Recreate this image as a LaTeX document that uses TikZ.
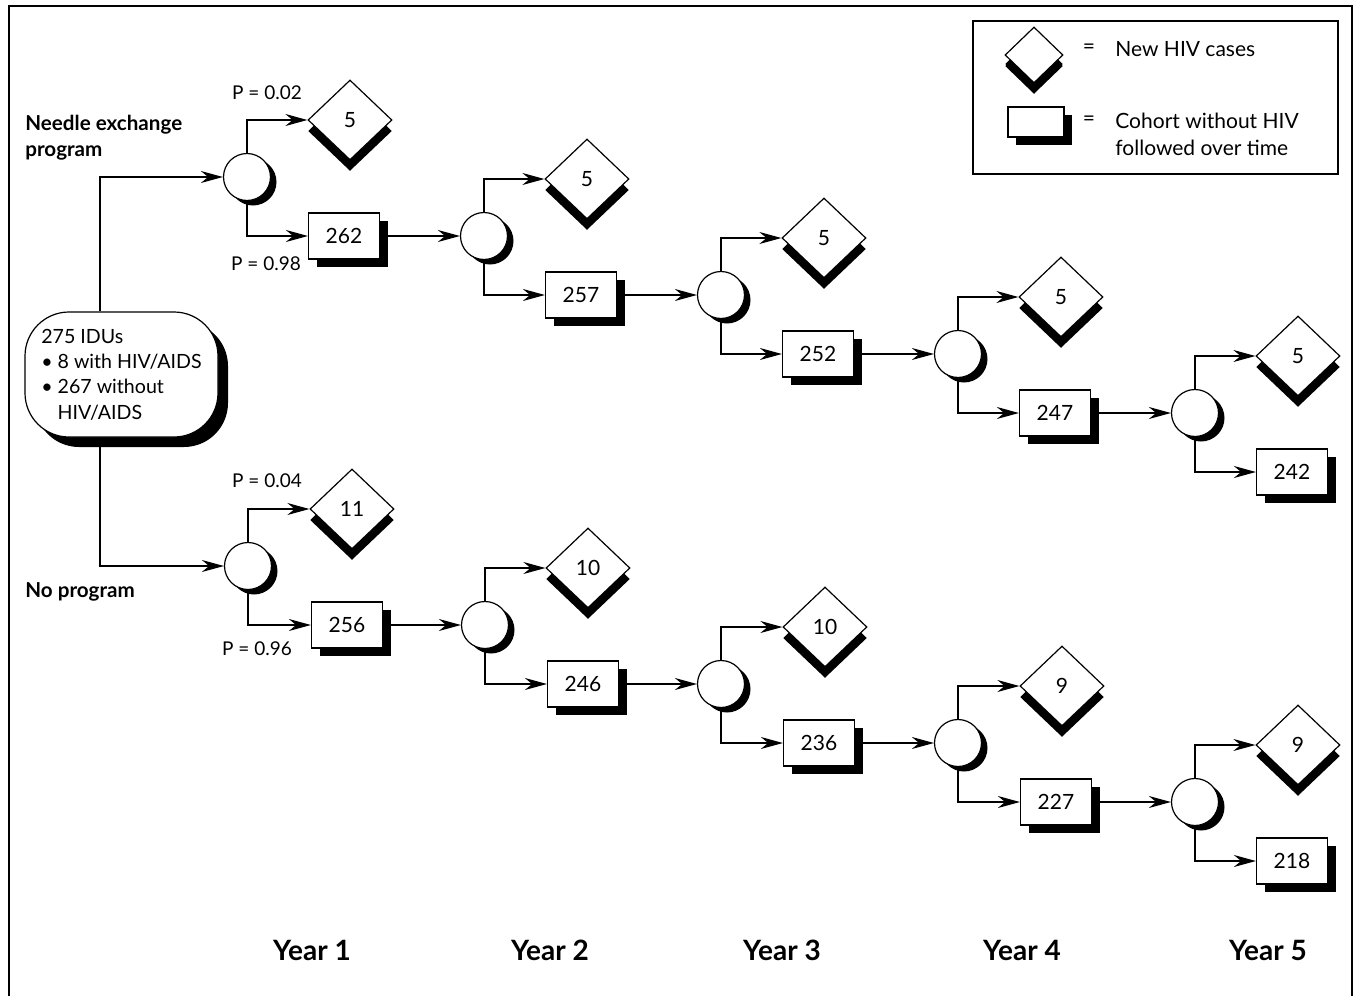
\documentclass[tikz,border=0pt]{standalone}
\usepackage{fontspec}
\setmainfont{Lato}
\usetikzlibrary{arrows.meta, shapes.geometric, shadows}

\begin{document}
\begin{tikzpicture}[x=0.5pt,y=-0.5pt,font=\fontsize{10.5}{13}\selectfont]

\tikzset{chance/.style = {shape=circle,draw,fill=white,line width=0.6pt,minimum size=23.5pt,inner sep=0pt,
  drop shadow={shadow xshift=3pt,shadow yshift=-2.5pt,fill=black,opacity=1}}}
\tikzset{cases/.style = {shape=diamond,draw,fill=white,line width=0.6pt,minimum width=42pt,minimum height=40pt,inner sep=0pt,
  drop shadow={shadow xshift=0pt,shadow yshift=-5.5pt,fill=black,opacity=1}}}
\tikzset{cohort/.style = {shape=rectangle,draw,fill=white,line width=0.6pt,minimum width=35.5pt,minimum height=23pt,inner sep=0pt,
  drop shadow={shadow xshift=4pt,shadow yshift=-4pt,fill=black,opacity=1}}}
\tikzset{start/.style = {shape=rectangle,draw,fill=white,line width=0.6pt,rounded corners=22pt,minimum width=96.5pt,minimum height=62.5pt,
  align=left,font=\fontsize{9.8}{12.7}\selectfont,drop shadow={shadow xshift=5pt,shadow yshift=-5pt,fill=black,opacity=1}}}
\tikzset{edge/.style = {->,> = {Stealth[length=11pt,width=6pt]},line width=0.6pt}}
\tikzset{plabel/.style = {inner sep=0pt,font=\fontsize{9.5}{11}\selectfont}}
\tikzset{group/.style = {inner sep=0pt,align=left,anchor=west,font=\fontsize{10.3}{13}\selectfont\bfseries}}
\tikzset{year/.style = {inner sep=0pt,font=\fontsize{14}{16}\selectfont\bfseries}}

\useasboundingbox (0,0) rectangle (1357,996);
\draw[line width=0.9pt] (9,996) -- (9,6) -- (1352,6) -- (1352,996);

%legend
\draw[line width=0.6pt] (973,21) rectangle (1338,174);
\node[cases, minimum width=29pt, minimum height=28pt,
  drop shadow={shadow xshift=0pt,shadow yshift=-4.5pt,fill=black,opacity=1}] (kd) at (1034,55) {};
\node[cohort, minimum width=28pt, minimum height=15pt] (kb) at (1036,122) {};
\node[inner sep=0pt] (ke1) at (1089,49) {=};
\node[inner sep=0pt] (ke2) at (1089,121) {=};
\node[inner sep=0pt, anchor=west] (kt1) at (1115,49) {New HIV cases};
\node[inner sep=0pt, anchor=west, align=left, font=\fontsize{10.5}{13.5}\selectfont] (kt2) at (1115,134) {Cohort without HIV\\followed over time};

%start
\node[start] (s) at (121.5,374.5) {275 IDUs\\\textbullet\ 8 with HIV/AIDS\\\textbullet\ 267 without\\\phantom{\textbullet\ }HIV/AIDS};
\node[group] (g1) at (25,138) {Needle exchange\\program};
\node[group] (g2) at (25,592) {No program};

%needle exchange program
\node[chance] (c1) at (247,177) {};
\node[cases] (d1) at (350,120) {5};
\node[cohort] (b1) at (344,236) {262};
\node[chance] (c2) at (484,236) {};
\node[cases] (d2) at (587,179) {5};
\node[cohort] (b2) at (581,295) {257};
\node[chance] (c3) at (721,295) {};
\node[cases] (d3) at (824,238) {5};
\node[cohort] (b3) at (818,354) {252};
\node[chance] (c4) at (958,354) {};
\node[cases] (d4) at (1061,297) {5};
\node[cohort] (b4) at (1055,413) {247};
\node[chance] (c5) at (1195,413) {};
\node[cases] (d5) at (1298,356) {5};
\node[cohort] (b5) at (1292,472) {242};

%no program
\node[chance] (c6) at (248,566) {};
\node[cases] (d6) at (352,509) {11};
\node[cohort] (b6) at (347,625) {256};
\node[chance] (c7) at (485,625) {};
\node[cases] (d7) at (588,568) {10};
\node[cohort] (b7) at (583,684) {246};
\node[chance] (c8) at (721,684) {};
\node[cases] (d8) at (825,627) {10};
\node[cohort] (b8) at (819,743) {236};
\node[chance] (c9) at (958,743) {};
\node[cases] (d9) at (1062,686) {9};
\node[cohort] (b9) at (1056,802) {227};
\node[chance] (c10) at (1195,802) {};
\node[cases] (d10) at (1298,745) {9};
\node[cohort] (b10) at (1292,861) {218};

%probabilities
\node[plabel] (p1) at (267,93) {P = 0.02};
\node[plabel] (p2) at (266,264) {P = 0.98};
\node[plabel] (p3) at (267,481) {P = 0.04};
\node[plabel] (p4) at (257,649) {P = 0.96};

%years
\node[year] (y1) at (312,950) {Year 1};
\node[year] (y2) at (550,950) {Year 2};
\node[year] (y3) at (782,950) {Year 3};
\node[year] (y4) at (1022,950) {Year 4};
\node[year] (y5) at (1268,950) {Year 5};

%edges
\draw [edge] ([xshift=-10.75pt]s.north) |- (c1);
\draw [edge] ([xshift=-10.75pt]s.south) |- (c6);
\draw [edge] (c1) |- (d1);
\draw [edge] (c1) |- (b1);
\draw [edge] (b1) -- (c2);
\draw [edge] (c2) |- (d2);
\draw [edge] (c2) |- (b2);
\draw [edge] (b2) -- (c3);
\draw [edge] (c3) |- (d3);
\draw [edge] (c3) |- (b3);
\draw [edge] (b3) -- (c4);
\draw [edge] (c4) |- (d4);
\draw [edge] (c4) |- (b4);
\draw [edge] (b4) -- (c5);
\draw [edge] (c5) |- (d5);
\draw [edge] (c5) |- (b5);
\draw [edge] (c6) |- (d6);
\draw [edge] (c6) |- (b6);
\draw [edge] (b6) -- (c7);
\draw [edge] (c7) |- (d7);
\draw [edge] (c7) |- (b7);
\draw [edge] (b7) -- (c8);
\draw [edge] (c8) |- (d8);
\draw [edge] (c8) |- (b8);
\draw [edge] (b8) -- (c9);
\draw [edge] (c9) |- (d9);
\draw [edge] (c9) |- (b9);
\draw [edge] (b9) -- (c10);
\draw [edge] (c10) |- (d10);
\draw [edge] (c10) |- (b10);

\end{tikzpicture}
\end{document}
